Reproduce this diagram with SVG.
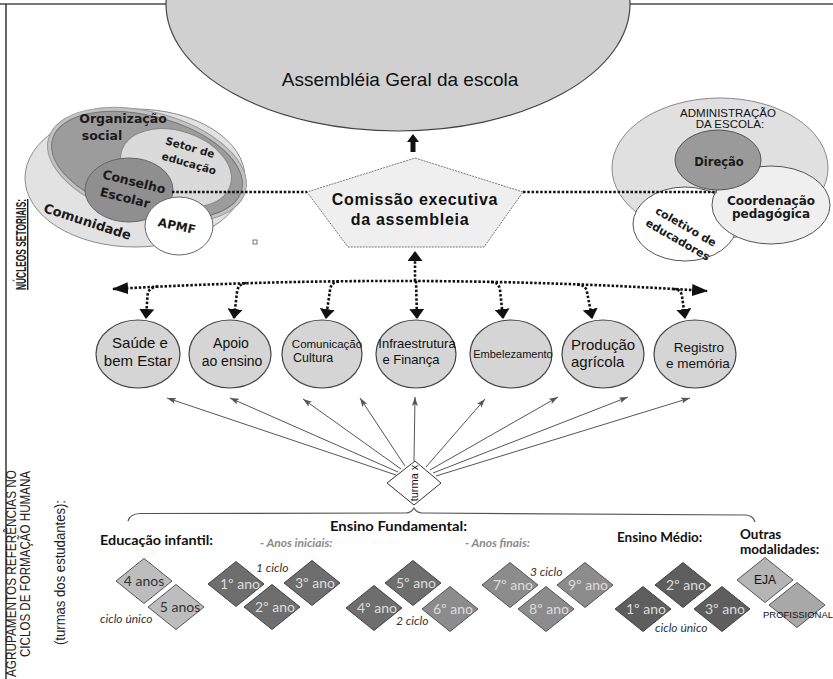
<svg xmlns="http://www.w3.org/2000/svg" width="833" height="679" viewBox="0 0 833 679">
<style>
.dot{fill:none;stroke:#111;stroke-width:2.6;stroke-dasharray:2.5 1.8}
.thin{fill:none;stroke:#555;stroke-width:1;marker-end:url(#sa)}
.nuc{fill:#d5d5d5;stroke:#444;stroke-width:1.2}
.nt{font-family:"Liberation Sans",Arial,sans-serif;fill:#111;text-anchor:middle}
.st{text-anchor:start}
.vb{font-family:"DejaVu Sans",Verdana,sans-serif;font-weight:bold;fill:#1a1a1a;text-anchor:middle}
.hd{font-family:Lato,"Liberation Sans",sans-serif;font-weight:bold;fill:#111}
.sub{font-family:Lato,"Liberation Sans",sans-serif;font-weight:bold;font-style:italic;fill:#8a8a8a;font-size:12px}
.it{font-family:Lato,"Liberation Sans",sans-serif;font-style:italic;fill:#333;font-size:12px}
.dl{font-family:Lato,"Liberation Sans",sans-serif;font-size:14px;text-anchor:middle}
.dk{fill:#dcdcdc}
.lt{fill:#333}
.side{font-family:"Liberation Sans",Arial,sans-serif;font-size:14px;fill:#222}
.d0{fill:#bdbdbd;stroke:#555;stroke-width:1}
.d1{fill:#6e6e6e;stroke:#444;stroke-width:1}
.d2{fill:#8c8c8c;stroke:#555;stroke-width:1}
.d3{fill:#5e5e5e;stroke:#444;stroke-width:1}
.d4{fill:#b5b5b5;stroke:#555;stroke-width:1}
.d5{fill:#a8a8a8;stroke:#555;stroke-width:1}
</style>
<defs>
<marker id="ah" markerUnits="userSpaceOnUse" markerWidth="16" markerHeight="12" refX="15" refY="6" orient="auto-start-reverse" viewBox="0 0 16 12"><path d="M0,0 L16,6 L0,12 z" fill="#111"/></marker>
<marker id="ad" markerUnits="userSpaceOnUse" markerWidth="10" markerHeight="15" refX="9" refY="7.5" orient="auto" viewBox="0 0 10 15"><path d="M0,0 L10,7.5 L0,15 z" fill="#111"/></marker>
<marker id="sa" markerUnits="userSpaceOnUse" markerWidth="9" markerHeight="6" refX="9" refY="3" orient="auto" viewBox="0 0 9 6"><path d="M0,0 L9,3 L0,6 L2,3 z" fill="#555"/></marker>
<polygon id="dm" points="0,-22.5 28,0 0,22.5 -28,0"/>
</defs>
<rect x="0" y="0" width="833" height="679" fill="#fff"/>
<line x1="0" y1="4" x2="833" y2="4" stroke="#777" stroke-width="2"/>
<line x1="6" y1="4" x2="6" y2="679" stroke="#333" stroke-width="1.5"/>

<g id="assembleia">
<ellipse cx="398" cy="4" rx="232" ry="127" fill="#d0d0d0" stroke="#444" stroke-width="1.2"/>
<text class="nt" x="400" y="86" font-size="19">Assembléia Geral da escola</text>
</g>

<g id="comunidade">
<ellipse cx="135" cy="178" rx="110" ry="69" fill="#e2e2e2" stroke="#8a8a8a" stroke-width="1"/>
<text class="vb" font-size="13" transform="translate(86,226) rotate(18)">Comunidade</text>
</g>
<g id="organizacao">
<ellipse cx="147" cy="165" rx="102" ry="53" transform="rotate(15 147 165)" fill="#c2c2c2" stroke="#999"/>
<ellipse cx="147" cy="165" rx="98" ry="49" transform="rotate(15 147 165)" fill="#9c9c9c" stroke="#777"/>
<text class="vb" font-size="12.5" x="123" y="123">Organização</text>
<text class="vb" font-size="12.5" x="102" y="140">social</text>
</g>
<g id="setor">
<ellipse cx="176" cy="168" rx="57" ry="37" transform="rotate(18 176 168)" fill="#dadada" stroke="#888"/>
<text class="vb" font-size="10.5" transform="translate(189,151) rotate(16)">Setor de</text>
<text class="vb" font-size="10.5" transform="translate(188,167) rotate(16)">educação</text>
</g>
<g id="conselho">
<ellipse cx="129" cy="190" rx="44" ry="32" fill="#8f8f8f" stroke="#666"/>
<text class="vb" font-size="12.5" transform="translate(133,186) rotate(14)">Conselho</text>
<text class="vb" font-size="12.5" transform="translate(124,202) rotate(14)">Escolar</text>
</g>
<g id="apmf">
<ellipse cx="179" cy="226" rx="34" ry="29" fill="#fff" stroke="#666"/>
<text class="vb" font-size="12" transform="translate(176,230) rotate(12)">APMF</text>
</g>
<rect x="253" y="240" width="4" height="4" fill="none" stroke="#555" stroke-width="0.8"/>

<g id="administracao">
<ellipse cx="720" cy="168" rx="108" ry="70" fill="#e0e0e0" stroke="#8a8a8a"/>
<text class="nt" font-size="11.5" x="728" y="117" fill="#222">ADMINISTRAÇÃO</text>
<text class="nt" font-size="11.5" x="730" y="128" fill="#222">DA ESCOLA:</text>
</g>
<g id="coletivo">
<ellipse cx="685" cy="224" rx="52" ry="37" fill="#fff" stroke="#555"/>
<text class="vb" font-size="11" transform="translate(684,230) rotate(30)">coletivo de</text>
<text class="vb" font-size="11" transform="translate(676,243) rotate(30)">educadores</text>
</g>
<g id="coordenacao">
<ellipse cx="771" cy="205" rx="59" ry="39" fill="#efefef" stroke="#555"/>
<text class="vb" font-size="12" x="771" y="205">Coordenação</text>
<text class="vb" font-size="12" x="771" y="218">pedagógica</text>
</g>
<g id="direcao">
<ellipse cx="718" cy="160" rx="43" ry="30" fill="#9a9a9a" stroke="#555"/>
<text class="vb" font-size="11.5" x="719" y="166">Direção</text>
</g>

<g id="comissao">
<polygon points="415,158 523,192 484,247 348,247 307,192" fill="#efefef" stroke="#777" stroke-width="1" stroke-dasharray="2 1"/>
<text class="nt" font-size="16" font-weight="bold" x="415" y="205" letter-spacing="0.7">Comissão executiva</text>
<text class="nt" font-size="16" font-weight="bold" x="410" y="225" letter-spacing="0.7">da assembleia</text>
</g>

<g id="nucleos">
<g id="n-saude"><ellipse class="nuc" cx="138" cy="354" rx="42" ry="34"/>
<text class="nt" font-size="15" x="140" y="348">Saúde e</text><text class="nt" font-size="15" x="138" y="366">bem Estar</text></g>
<g id="n-apoio"><ellipse class="nuc" cx="230" cy="354" rx="41" ry="34"/>
<text class="nt" font-size="14" x="231" y="348">Apoio</text><text class="nt" font-size="14" x="232" y="366">ao ensino</text></g>
<g id="n-comunicacao"><ellipse class="nuc" cx="322" cy="354" rx="40" ry="34"/>
<text class="nt" font-size="11.5" x="327" y="348">Comunicação</text><text class="nt st" font-size="12.5" x="293" y="362">Cultura</text></g>
<g id="n-infra"><ellipse class="nuc" cx="416" cy="354" rx="40" ry="34"/>
<text class="nt" font-size="13" x="417" y="348">Infraestrutura</text><text class="nt" font-size="13" x="411" y="364">e Finança</text></g>
<g id="n-embelezamento"><ellipse class="nuc" cx="511" cy="354" rx="41" ry="34"/>
<text class="nt" font-size="11" x="513" y="358">Embelezamento</text></g>
<g id="n-producao"><ellipse class="nuc" cx="603" cy="354" rx="41" ry="34"/>
<text class="nt st" font-size="15" x="571" y="350">Produção</text><text class="nt st" font-size="15" x="571" y="367">agrícola</text></g>
<g id="n-registro"><ellipse class="nuc" cx="695" cy="354" rx="41" ry="34"/>
<text class="nt" font-size="13.5" x="699" y="352">Registro</text><text class="nt" font-size="13.5" x="698" y="368">e memória</text></g>
</g>

<g id="turma">
<polygon points="415,461 441,483 414,505 387,483" fill="#fff" stroke="#333" stroke-width="1"/>
<text class="nt" font-size="11" transform="translate(418,483) rotate(-90)">turma x</text>
</g>

<g id="connectors">
<line class="dot" x1="172" y1="192" x2="307" y2="192"/>
<line class="dot" x1="523" y1="192" x2="717" y2="192"/>
<path d="M413,134 L419,142 L415.5,142 L415.5,152 L410.5,152 L410.5,142 L407,142 Z" fill="#111"/>
<path class="dot" d="M113,289 Q415,272 707,291" marker-start="url(#ah)" marker-end="url(#ah)"/>
<line class="dot" x1="415" y1="281" x2="415" y2="252" marker-end="url(#ad)"/>
<line class="dot" x1="416" y1="281" x2="417" y2="318" marker-end="url(#ad)"/>
<path class="dot" d="M158,286.5 Q148,287 147.5,296 L146,318" marker-end="url(#ad)"/>
<path class="dot" d="M246,283 Q238,284 237,292 L234,318" marker-end="url(#ad)"/>
<path class="dot" d="M339,281.5 Q331,282 330,290 L326,318" marker-end="url(#ad)"/>
<path class="dot" d="M491,282 Q499,282 500,290 L503,318" marker-end="url(#ad)"/>
<path class="dot" d="M577,284.5 Q586,285 587,292 L592,318" marker-end="url(#ad)"/>
<path class="dot" d="M673,289 Q681,289 682,296 L685,318" marker-end="url(#ad)"/>
<line class="thin" x1="396" y1="475" x2="167" y2="398"/>
<line class="thin" x1="398" y1="472" x2="230" y2="398"/>
<line class="thin" x1="401" y1="469" x2="303" y2="399"/>
<line class="thin" x1="405" y1="466" x2="360" y2="398"/>
<line class="thin" x1="414" y1="461" x2="415" y2="397"/>
<line class="thin" x1="426" y1="467" x2="485" y2="399"/>
<line class="thin" x1="430" y1="470" x2="558" y2="397"/>
<line class="thin" x1="433" y1="473" x2="628" y2="397"/>
<line class="thin" x1="436" y1="476" x2="690" y2="398"/>
<path d="M128,521 Q130,514 140,513.5 L406,513 Q411,513 414,508 Q417,513 422,513 L746,515 Q753,515.5 755,522" fill="none" stroke="#555" stroke-width="1.2"/>
</g>

<g id="labels">
<text class="side" font-weight="bold" text-decoration="underline" transform="translate(26,290) rotate(-90)" textLength="91" lengthAdjust="spacingAndGlyphs" font-size="13">NÚCLEOS SETORIAIS:</text>
<text class="side" transform="translate(16,677) rotate(-90)" textLength="207" lengthAdjust="spacingAndGlyphs">AGRUPAMENTOS REFERÊNCIAS NO</text>
<text class="side" transform="translate(30,657) rotate(-90)" textLength="186" lengthAdjust="spacingAndGlyphs">CICLOS DE FORMAÇÃO HUMANA</text>
<text class="side" transform="translate(65,645) rotate(-90)" textLength="145" lengthAdjust="spacingAndGlyphs">(turmas dos estudantes):</text>
<text class="hd" font-size="13.5" x="330" y="531" textLength="137" lengthAdjust="spacingAndGlyphs">Ensino Fundamental:</text>
<text class="hd" font-size="13.5" x="100" y="545" textLength="113" lengthAdjust="spacingAndGlyphs">Educação infantil:</text>
<text class="sub" x="260" y="547">- Anos iniciais:</text>
<text class="sub" x="465" y="547">- Anos finais:</text>
<text class="hd" font-size="13.5" x="617" y="542">Ensino Médio:</text>
<text class="hd" font-size="13.5" x="740" y="539">Outras</text>
<text class="hd" font-size="13.5" x="740" y="554">modalidades:</text>
<text class="it" x="256" y="572">1 ciclo</text>
<text class="it" x="100" y="623" font-size="12.5">ciclo único</text>
<text class="it" x="396" y="625">2 ciclo</text>
<text class="it" x="530" y="576">3 ciclo</text>
<text class="it" x="655" y="632" font-size="12.5">ciclo único</text>
</g>

<g id="turmas">
<g id="t-4anos"><use href="#dm" x="144" y="581" class="d0"/><text class="dl lt" x="144" y="586">4 anos</text></g>
<g id="t-5anos"><use href="#dm" x="176" y="607" class="d0"/><text class="dl lt" x="180" y="612">5 anos</text></g>
<g id="t-1ano"><use href="#dm" x="236" y="584" class="d1"/><text class="dl dk" x="240" y="589">1º ano</text></g>
<g id="t-2ano"><use href="#dm" x="272" y="607" class="d1"/><text class="dl dk" x="275" y="612">2º ano</text></g>
<g id="t-3ano"><use href="#dm" x="312" y="583" class="d1"/><text class="dl dk" x="315" y="588">3º ano</text></g>
<g id="t-4ano"><use href="#dm" x="374" y="608" class="d1"/><text class="dl dk" x="377" y="613">4º ano</text></g>
<g id="t-5ano"><use href="#dm" x="413" y="583" class="d1"/><text class="dl dk" x="416" y="588">5º ano</text></g>
<g id="t-6ano"><use href="#dm" x="450" y="609" class="d2"/><text class="dl dk" x="453" y="614">6º ano</text></g>
<g id="t-7ano"><use href="#dm" x="510" y="585" class="d2"/><text class="dl dk" x="513" y="590">7º ano</text></g>
<g id="t-8ano"><use href="#dm" x="546" y="609" class="d2"/><text class="dl dk" x="549" y="614">8º ano</text></g>
<g id="t-9ano"><use href="#dm" x="585" y="585" class="d2"/><text class="dl dk" x="588" y="590">9º ano</text></g>
<g id="t-m2ano"><use href="#dm" x="683" y="585" class="d3"/><text class="dl dk" x="686" y="590">2º ano</text></g>
<g id="t-m1ano"><use href="#dm" x="643" y="609" class="d3"/><text class="dl dk" x="646" y="614">1º ano</text></g>
<g id="t-m3ano"><use href="#dm" x="722" y="609" class="d3"/><text class="dl dk" x="725" y="614">3º ano</text></g>
<g id="t-eja"><use href="#dm" x="765" y="580" class="d4"/><text class="nt" font-size="12" x="765" y="584" fill="#333">EJA</text></g>
<g id="t-prof"><use href="#dm" x="797" y="605" class="d5"/><text class="nt st" font-size="9.5" x="763" y="618" textLength="70" lengthAdjust="spacingAndGlyphs">PROFISSIONAL</text></g>
</g>
</svg>
